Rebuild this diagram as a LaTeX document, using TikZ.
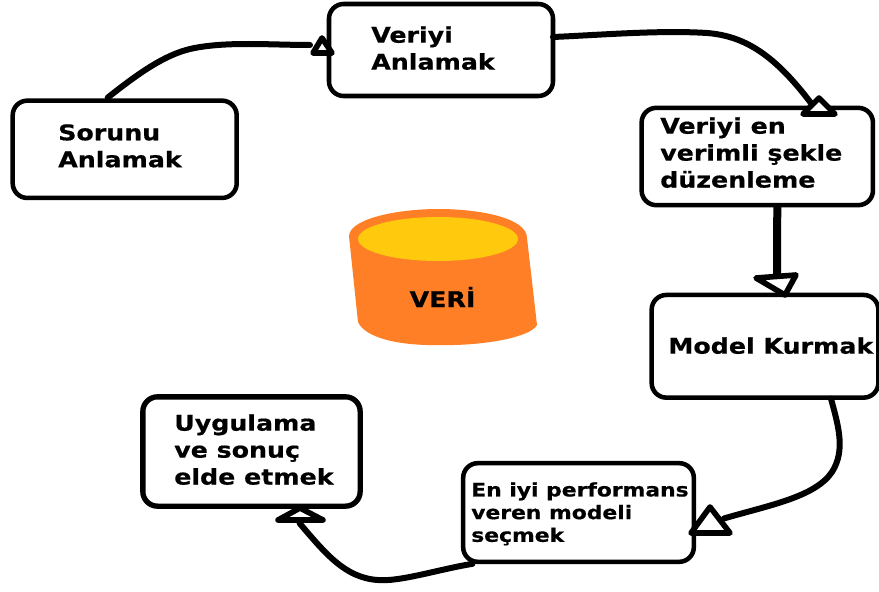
\documentclass[tikz,border=0pt]{standalone}
\usepackage{fontspec}
\setmainfont[BoldFeatures={FakeStretch=1.17,FakeBold=0.6}]{DejaVu Sans}
\tikzset{
  x=0.75pt,y=-0.75pt,
  stepbox/.style={draw=black,line width=3.4pt,rounded corners=11pt,fill=white,outer sep=0pt,inner sep=0pt},
  lbl/.style={font=\bfseries\fontsize{16.2pt}{20.2pt}\selectfont,anchor=north west,align=left,inner sep=0pt,text=black},
  lblsmall/.style={font=\bfseries\fontsize{14pt}{17pt}\selectfont,anchor=north west,align=left,inner sep=0pt,text=black},
  link/.style={draw=black,line width=4.5pt,line cap=round},
  head/.style={draw=black,line width=4.2pt,line join=round,fill=white},
}
\begin{document}
\begin{tikzpicture}
\useasboundingbox (0,0) rectangle (879,592);
\fill[white] (0,0) rectangle (879,592);

% boxes
\node[stepbox,minimum width=168pt,minimum height=73pt] (b1) at (124.7,149.3) {};
\node[stepbox,minimum width=168pt,minimum height=69pt] (b2) at (441,50) {};
\node[stepbox,minimum width=173.5pt,minimum height=73pt] (b3) at (757.3,156.5) {};
\node[stepbox,minimum width=170pt,minimum height=77pt] (b4) at (765,346.3) {};
\node[stepbox,minimum width=173pt,minimum height=74pt] (b5) at (578.5,512.5) {};
\node[stepbox,line width=4pt,minimum width=163pt,minimum height=82pt] (b6) at (251.5,451.5) {};

% connectors
\draw[link] ([shift={(-17,-3)}]b1.north) .. controls (140,72) and (165,55) .. (190,49)
   .. controls (225,41) and (270,45) .. ([shift={(-19,0)}]b2.west |- 0,45);
\draw[link] ([shift={(0,-13)}]b2.east) .. controls (600,35) and (660,30) .. (707,33)
   .. controls (745,36) and (775,55) .. ([shift={(55,-3)}]b3.north);
\draw[draw=black,line width=6pt] ([shift={(20,-2)}]b3.south) -- ([shift={(12,-16)}]b4.north);
\draw[link] ([shift={(66,1)}]b4.south) .. controls (838,425) and (846,450) .. (832,472)
   .. controls (815,497) and (770,505) .. ([shift={(30,6)}]b5.east);
\draw[link] ([shift={(-106,2)}]b5.south) .. controls (440,569) and (400,582) .. (378,580)
   .. controls (345,578) and (325,553) .. ([shift={(48,17)}]b6.south);

% arrowheads
\draw[head] (322,38) -- (313,53) -- (332,53) -- cycle;
\draw[head] (819,98) -- (803,114) -- (835,114) -- cycle;
\draw[head] (756,278) -- (796,275) -- (785,295) -- cycle;
\draw[head] (710,507) -- (691,533) -- (730,533) -- cycle;
\draw[head] (300,508) -- (278,520) -- (323,520) -- cycle;

% cylinder
\fill[fill={rgb,255:red,255;green,127;blue,39}]
  (349,236) .. controls (350,218) and (400,209) .. (438,209)
  .. controls (480,209) and (527,218) .. (527,238)
  -- (537,325)
  .. controls (530,338) and (480,346) .. (440,345)
  .. controls (400,346) and (365,338) .. (358,322) -- cycle;
\fill[fill={rgb,255:red,255;green,201;blue,14}]
  (438,239) ellipse [x radius=80,y radius=22];
\node[font=\bfseries\fontsize{16.2pt}{20pt}\selectfont] (v) at (442.5,297) {VERİ};

% labels
\node[lbl] (l1) at (58,124) {Sorunu\\Anlamak};
\node[lbl] (l2) at (371,26) {Veriyi\\Anlamak};
\node[lbl] (l3) at (660,117) {Veriyi en\\verimli şekle\\düzenleme};
\node[lbl] (l4) at (668,337) {Model Kurmak};
\node[lblsmall] (l5) at (471,482) {En iyi performans\\veren modeli\\seçmek};
\node[lbl] (l6) at (174,414) {Uygulama\\ve sonuç\\elde etmek};
\end{tikzpicture}
\end{document}
